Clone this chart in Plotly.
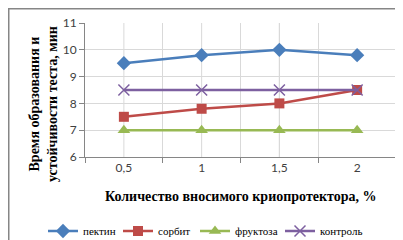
import plotly.graph_objects as go

categories = ["0,5", "1", "1,5", "2"]
pectin = [9.5, 9.8, 10.0, 9.8]
sorbit = [7.5, 7.8, 8.0, 8.5]
fructose = [7.0, 7.0, 7.0, 7.0]
control = [8.5, 8.5, 8.5, 8.5]
y_ticks = [6, 7, 8, 9, 10, 11]

W, H = 403, 240
L, R, T, B = 77, 15, 15, 91
pw, ph = W - L - R, H - T - B

fig = go.Figure()
series = [
    ("пектин", pectin, "#4a7ebb", dict(symbol="diamond", size=11), "legend", 35),
    ("сорбит", sorbit, "#be4b48", dict(symbol="square", size=10), "legend2", 110),
    ("фруктоза", fructose, "#98b954", dict(symbol="triangle-up", size=11), "legend3", 187),
    ("контроль", control, "#7d60a0", dict(symbol="x-thin-open", size=11, line=dict(width=1.5, color="#7d60a0")), "legend4", 272),
]
legend_common = dict(orientation="h", yanchor="middle", xanchor="left", itemwidth=30,
                     font=dict(family="Liberation Serif", size=11, color="#000000"),
                     itemclick=False, itemdoubleclick=False, bgcolor="rgba(0,0,0,0)",
                     y=1 - (223 - T) / ph)
legends = {}
for name, vals, col, mk, lg, lx in series:
    mk = dict(mk)
    mk["color"] = col
    fig.add_trace(go.Scatter(x=categories, y=vals, name=name, mode="lines+markers",
                             line=dict(color=col, width=2.5), marker=mk, legend=lg))
    legends[lg] = dict(legend_common, x=(lx - L) / pw)

# gridlines through category centres
for c in categories:
    fig.add_shape(type="line", xref="x", yref="y domain", x0=c, x1=c, y0=0, y1=1,
                  line=dict(color="#d9d9d9", width=1), layer="below")

# outer chart border
fig.add_shape(type="rect", xref="paper", yref="paper",
              x0=(-L + 0.75) / pw, x1=1 + (R - 0.75) / pw,
              y0=(-B + 0.75) / ph, y1=1 + (T - 0.75) / ph,
              line=dict(color="#868686", width=1.5))

fig.add_annotation(text="<b>Время образования и<br>устойчивости теста, мин</b>", textangle=-90,
                   xref="paper", yref="paper", x=(35 - L) / pw, y=1 - (96 - T) / ph,
                   showarrow=False, xanchor="center", yanchor="middle",
                   font=dict(family="Liberation Serif", size=14, color="#000000"))
fig.add_annotation(text="<b>Количество вносимого криопротектора, %</b>",
                   xref="paper", yref="paper", x=0.5, y=1 - (188 - T) / ph,
                   showarrow=False, xanchor="center", yanchor="middle",
                   font=dict(family="Liberation Serif", size=14, color="#000000"))

fig.update_layout(
    width=W, height=H, margin=dict(l=L, r=R, t=T, b=B, autoexpand=False),
    paper_bgcolor="white", plot_bgcolor="white",
    showlegend=True,
    **legends,
    xaxis=dict(type="category", range=[-0.5, 3.5], tickson="boundaries",
               showgrid=True, gridcolor="#d9d9d9", gridwidth=1,
               showline=True, linecolor="#868686", linewidth=1,
               ticks="outside", ticklen=5, tickcolor="#868686",
               tickfont=dict(family="Lato", size=12, color="#404040"),
               zeroline=False, fixedrange=True),
    yaxis=dict(range=[6, 11], tickvals=y_ticks, showgrid=True, gridcolor="#d9d9d9",
               showline=True, linecolor="#868686", linewidth=1,
               ticks="outside", ticklen=5, tickcolor="#868686",
               tickfont=dict(family="Lato", size=12, color="#404040"),
               zeroline=False, fixedrange=True),
)
fig.write_html("out.html")
